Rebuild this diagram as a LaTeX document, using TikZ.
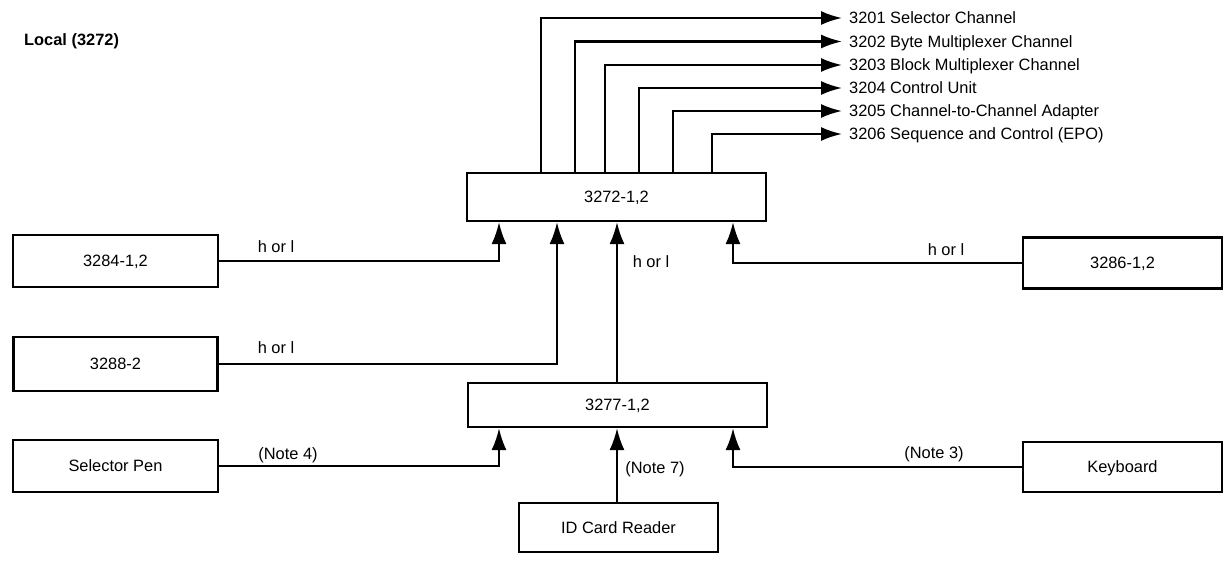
\documentclass[tikz,border=0pt]{standalone}
\usepackage{fontspec}
\setmainfont{Liberation Sans}
\usetikzlibrary{arrows.meta,calc}
\begin{document}
\begin{tikzpicture}[x=1pt,y=-1pt,
  every node/.style={font=\fontsize{16.4}{18}\selectfont},
  box/.style={draw,line width=2.2pt,inner sep=0pt,text height=11.8pt,text depth=0pt},
  lab/.style={inner sep=0pt,text height=11.8pt,text depth=0pt},
  outlab/.style={inner ysep=0pt,inner xsep=0pt,anchor=west,text height=11.8pt,text depth=0pt},
  conn/.style={line width=2.2pt},
  arrup/.style={conn,-{Latex[length=22pt,width=15pt]}},
  arrout/.style={conn,-{Latex[length=21pt,width=14pt]}}]
\useasboundingbox (0,0) rectangle (1226,564);
\fill[white] (0,0) rectangle (1226,564);

\node[lab,anchor=west,font=\fontsize{16.4}{18}\selectfont\bfseries] (title) at (24,40) {Local (3272)};

% boxes
\node[box,minimum width=299pt,minimum height=48pt] (b3272) at (616.5,197) {3272-1,2};
\node[box,minimum width=205pt,minimum height=52pt] (b3284) at (115.5,261) {3284-1,2};
\node[box,minimum width=204pt,minimum height=54pt] (b3288) at (115.5,364) {3288-2};
\node[box,minimum width=299pt,minimum height=44pt] (b3277) at (617.5,405) {3277-1,2};
\node[box,minimum width=205pt,minimum height=52pt] (bpen) at (115.5,466) {Selector Pen};
\node[box,minimum width=199pt,minimum height=49pt] (bid) at (618.5,527.5) {ID Card Reader};
\node[box,minimum width=199pt,minimum height=51pt] (b3286) at (1122.5,263) {3286-1,2};
\node[box,minimum width=199pt,minimum height=50pt] (bkey) at (1122.5,467) {Keyboard};

% output labels
\node[outlab] (l1) at (849,18) {3201 Selector Channel};
\node[outlab] (l2) at (849,41.5) {3202 Byte Multiplexer Channel};
\node[outlab] (l3) at (849,65) {3203 Block Multiplexer Channel};
\node[outlab] (l4) at (849,88) {3204 Control Unit};
\node[outlab] (l5) at (849,111) {3205 Channel-to-Channel Adapter};
\node[outlab] (l6) at (849,134) {3206 Sequence and Control (EPO)};

\coordinate (e1) at (842,18);
\coordinate (e2) at (842,41.5);
\coordinate (e3) at (842,65);
\coordinate (e4) at (842,88);
\coordinate (e5) at (842,111);
\coordinate (e6) at (842,134);

\draw[arrout] (b3272.north -| 541,0) |- (e1);
\draw[arrout] (b3272.north -| 575,0) |- (e2);
\draw[arrout] (b3272.north -| 605,0) |- (e3);
\draw[arrout] (b3272.north -| 639,0) |- (e4);
\draw[arrout] (b3272.north -| 673,0) |- (e5);
\draw[arrout] (b3272.north -| 712,0) |- (e6);

% inputs to 3272
\coordinate (i1) at (b3272.south -| 499,0);
\coordinate (i2) at (b3272.south -| 557,0);
\coordinate (i3) at (b3272.south -| 617,0);
\coordinate (i4) at (b3272.south -| 733,0);
\draw[arrup] (b3284.east) -| (i1);
\draw[arrup] (b3288.east) -| (i2);
\draw[arrup] (b3277.north -| i3) -- (i3);
\draw[arrup] (b3286.west) -| (i4);

% inputs to 3277
\coordinate (j1) at (b3277.south -| 499,0);
\coordinate (j2) at (b3277.south -| 617,0);
\coordinate (j3) at (b3277.south -| 733,0);
\draw[arrup] (bpen.east) -| (j1);
\draw[arrup] (bid.north -| j2) -- (j2);
\draw[arrup] (bkey.west) -| (j3);

% connector labels
\node[lab] (h1) at (276,247) {h or l};
\node[lab] (h2) at (276,348) {h or l};
\node[lab] (h3) at (651,262) {h or l};
\node[lab] (h4) at (946,250) {h or l};
\node[lab] (n4) at (288,454) {(Note 4)};
\node[lab] (n7) at (655,468) {(Note 7)};
\node[lab] (n3) at (934,453) {(Note 3)};
\end{tikzpicture}
\end{document}
